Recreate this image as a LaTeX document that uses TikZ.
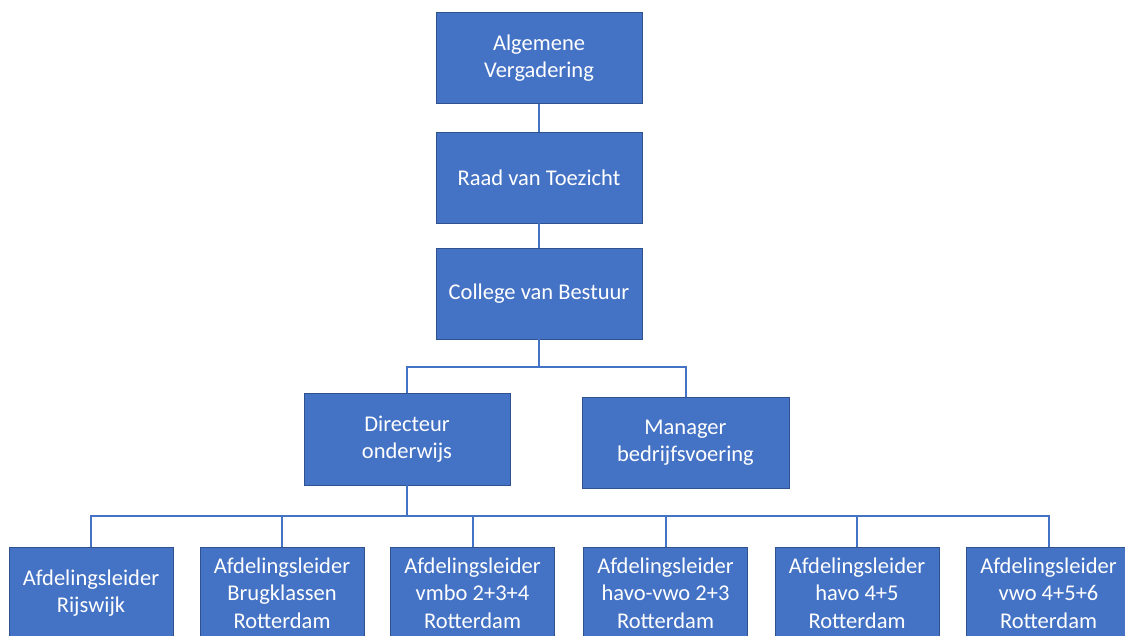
\documentclass[tikz,border=0pt]{standalone}
\usepackage{fontspec}
\setmainfont{Carlito}
\definecolor{boxblue}{HTML}{4472C4}
\definecolor{boxedge}{HTML}{2F528F}
\begin{document}
\begin{tikzpicture}[x=1pt,y=-1pt,
    box/.style={draw=boxedge,line width=0.8pt,fill=boxblue,text=white,
      align=center,inner sep=0pt,minimum width=206pt,minimum height=91pt,
      font=\fontsize{22.5}{27.5}\selectfont},
    smallbox/.style={box,minimum width=164pt,minimum height=92pt},
    link/.style={draw=boxblue,line width=2pt}]
      \useasboundingbox (0,0) rectangle (1125,635);
      \clip (0,0) rectangle (1125,635);
      \draw
        (539,58) node[box] (av){Algemene\\Vergadering}
        (539,177.5) node[box] (rvt){Raad van Toezicht}
        (539,293.5) node[box] (cvb){College van Bestuur}
        (407,439) node[box,minimum height=92pt] (do){Directeur\\onderwijs}
        (685.5,442.5) node[box,minimum width=207pt] (mb){Manager\\bedrijfsvoering}
        (91,593) node[smallbox] (a1){Afdelingsleider\\Rijswijk}
        (282,593) node[smallbox] (a2){Afdelingsleider\\Brugklassen\\Rotterdam}
        (472.5,593) node[smallbox] (a3){Afdelingsleider\\vmbo 2+3+4\\Rotterdam}
        (665.5,593) node[smallbox] (a4){Afdelingsleider\\havo-vwo 2+3\\Rotterdam}
        (857,593) node[smallbox] (a5){Afdelingsleider\\havo 4+5\\Rotterdam}
        (1048.5,593) node[smallbox] (a6){Afdelingsleider\\vwo 4+5+6\\Rotterdam};
      \begin{scope}[link]
        \draw (av) to (rvt);
        \draw (rvt) to (cvb);
        \draw (cvb.south) -- ++(0,28) coordinate (j1);
        \draw (j1) -| (do.north);
        \draw (j1) -| (mb.north);
        \draw (do.south) -- ++(0,31) coordinate (j2);
        \draw (j2) -| (a1.north);
        \draw (j2) -| (a2.north);
        \draw (j2) -| (a3.north);
        \draw (j2) -| (a4.north);
        \draw (j2) -| (a5.north);
        \draw (j2) -| (a6.north);
      \end{scope}
    \end{tikzpicture}
\end{document}
